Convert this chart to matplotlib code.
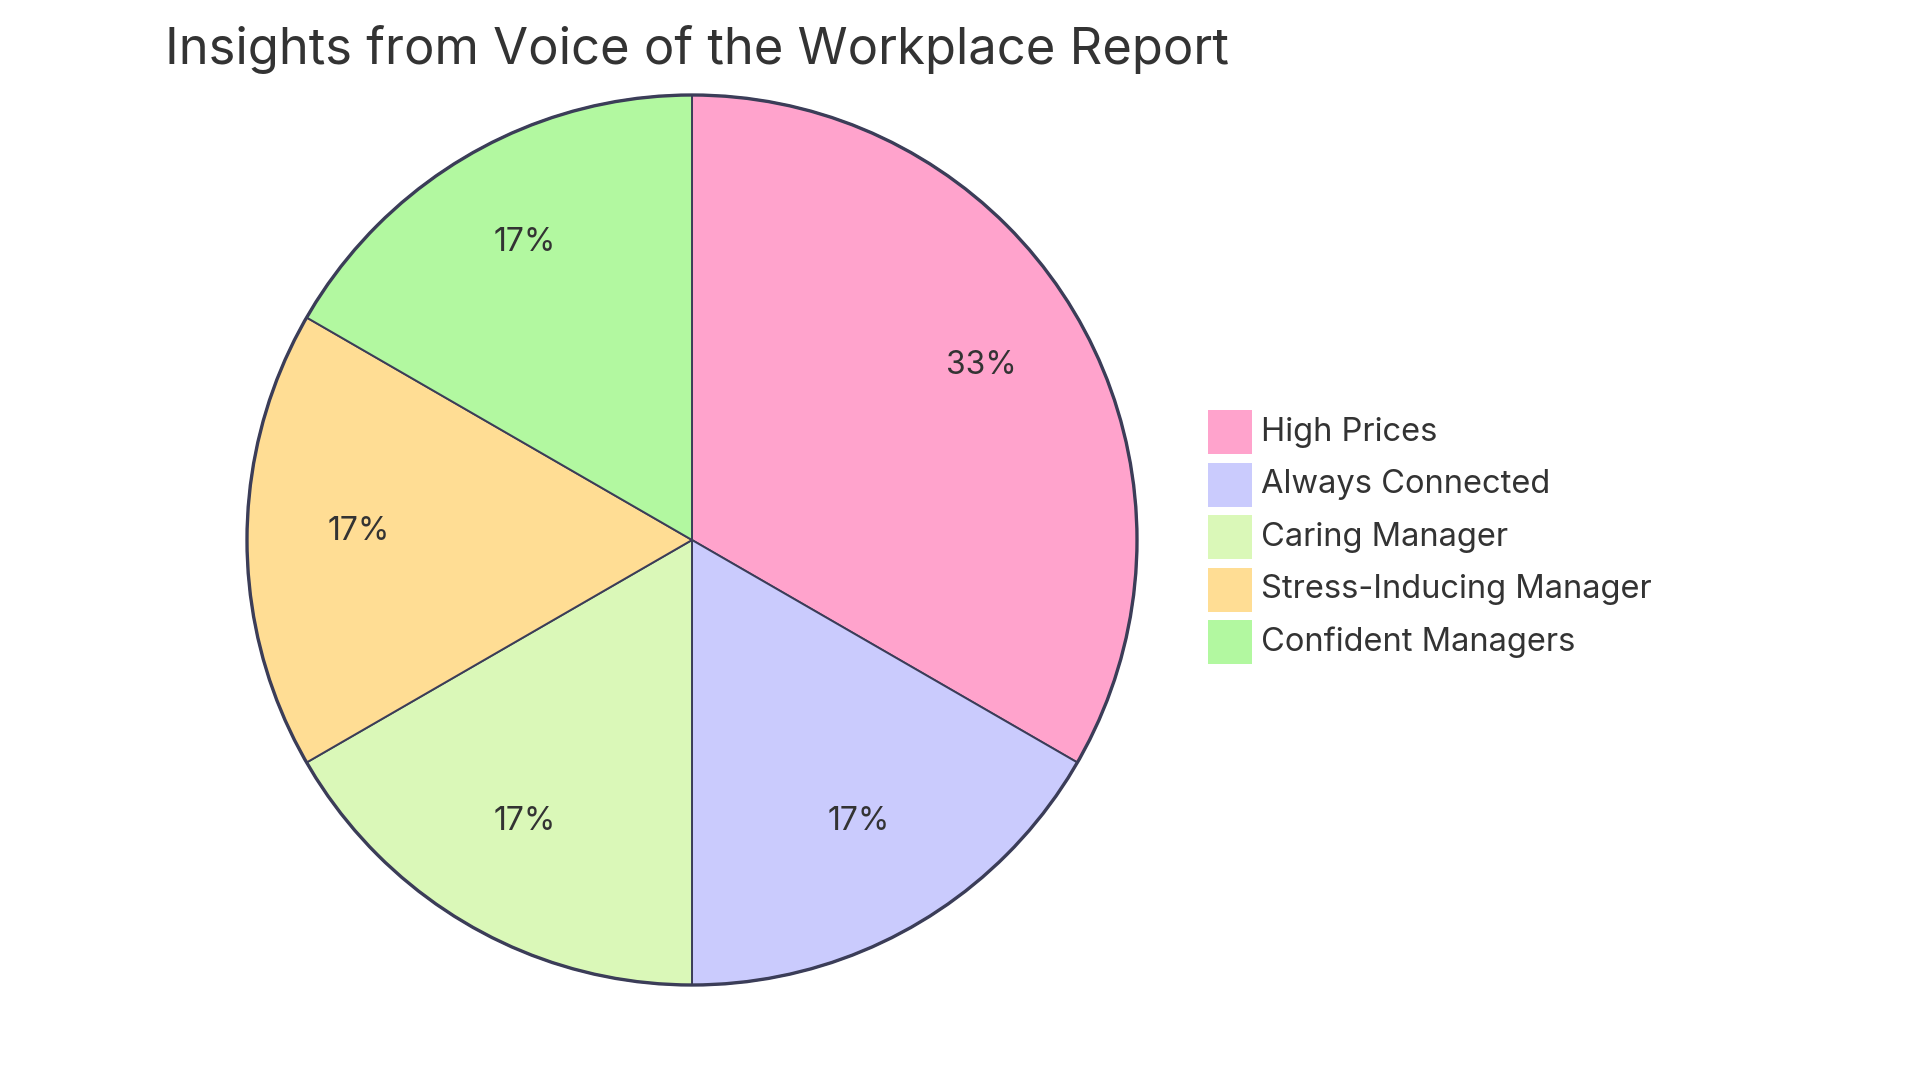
import matplotlib
matplotlib.use("Agg")
import matplotlib.pyplot as plt
from matplotlib.patches import Rectangle, Circle

labels = ["High Prices", "Always Connected", "Caring Manager",
          "Stress-Inducing Manager", "Confident Managers"]
values = [2, 1, 1, 1, 1]
colors = ["#FFA3CC", "#CACBFD", "#DAF8B8", "#FFDD94", "#B2F8A0"]

TITLE = "Insights from Voice of the Workplace Report"
INK = "#333333"
EDGE = "#3b3d58"

plt.rcParams["font.family"] = ["Inter", "Lato", "DejaVu Sans"]

W, H = 1920, 1080
fig = plt.figure(figsize=(W / 100, H / 100), dpi=100)
ax = fig.add_axes([0, 0, 1, 1])
ax.set_xlim(0, W)
ax.set_ylim(0, H)
ax.set_aspect("equal")
ax.axis("off")

cx, cy, r = 692, H - 540, 445
wedges, _, autotexts = ax.pie(
    values, colors=colors, startangle=90, counterclock=False,
    center=(cx, cy), radius=r, autopct="%.0f%%", pctdistance=0.75,
    wedgeprops=dict(edgecolor=EDGE, linewidth=1.4),
    textprops=dict(fontsize=23, color=INK),
)
for t in autotexts:
    x, y = t.get_position()
    t.set_position((x, y + 8))
ax.add_patch(Circle((cx, cy), r, fill=False, edgecolor=EDGE, lw=2.4, zorder=5))
ax.set_xlim(0, W)
ax.set_ylim(0, H)

# legend drawn by hand
lx, ly0, sz, step = 1208, H - 432, 44, 52.6
for i, (lab, col) in enumerate(zip(labels, colors)):
    y = ly0 - i * step
    ax.add_patch(Rectangle((lx, y - sz / 2), sz, sz, facecolor=col,
                           edgecolor="none"))
    ax.text(lx + sz + 9, y, lab, fontsize=23.5, color=INK, va="center",
            ha="left")

ax.text(165, H - 64, TITLE, fontsize=36.5, color=INK, ha="left",
        va="baseline")

fig.savefig("out.png", dpi=100)
